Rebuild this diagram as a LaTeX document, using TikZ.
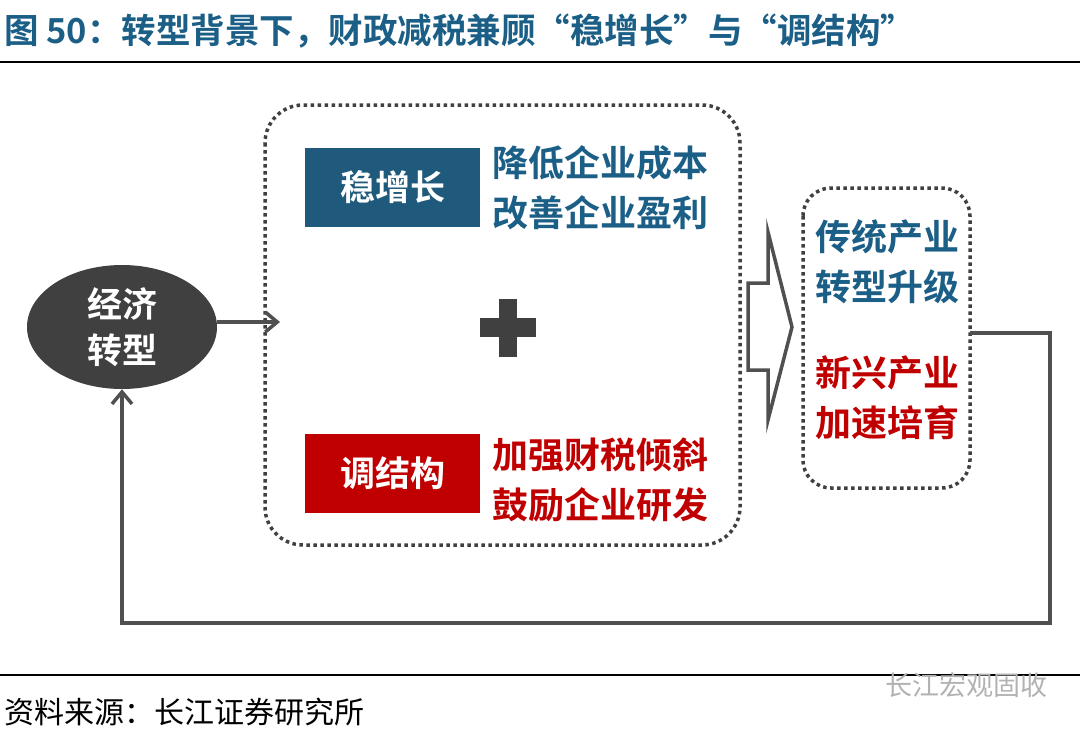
\documentclass[tikz,border=0pt]{standalone}
\usepackage{fontspec}
\setmainfont{Noto Sans CJK SC}[BoldFont={Noto Sans CJK SC Bold}]
\usetikzlibrary{shapes.geometric,arrows.meta}
\definecolor{tblue}{HTML}{1B5E86}
\definecolor{bbox}{HTML}{1F5A7C}
\definecolor{rbox}{HTML}{C00000}
\definecolor{dg}{HTML}{404040}
\definecolor{lg}{HTML}{505050}
\tikzset{
  dotbox/.style={draw=dg,line width=3.5pt,dash pattern=on 3.5pt off 3.5pt,rounded corners=38pt},
  tagbox/.style={minimum width=175pt,minimum height=79pt,text=white,font=\fontsize{35}{40}\selectfont\bfseries,inner sep=0pt},
  txt/.style={font=\fontsize{36}{50}\selectfont\bfseries,align=left,anchor=west,inner sep=0pt},
  conn/.style={draw=lg,line width=3.5pt,-{Straight Barb[length=12pt,width=20pt]}},
}
\begin{document}
\begin{tikzpicture}[x=1pt,y=-1pt]
\useasboundingbox (0,0) rectangle (1080,731);
\node[anchor=west,text=tblue,font=\fontsize{34.5}{38}\selectfont\bfseries,inner sep=0pt] (title) at (4,31) {图 50：转型背景下，财政减税兼顾“稳增长”与“调结构”};
\draw[line width=2.5pt] (0,62) -- (1080,62);
\node[ellipse,fill=dg,minimum width=190pt,minimum height=124pt,text=white,font=\fontsize{35}{46}\selectfont\bfseries,align=center,inner sep=0pt] (e) at (122,327) {经济\\转型};
\draw[dotbox] (265,105) rectangle (740,545);
\coordinate (boxL) at (280,322);
\draw[conn] (e.east|-boxL) -- (boxL);
\node[tagbox,fill=bbox] (s) at (392.5,187) {稳增长};
\node[txt,text=tblue] (st) at (492,188) {降低企业成本\\改善企业盈利};
\node[tagbox,fill=rbox] (t) at (392.5,473) {调结构};
\node[txt,text=rbox] (tt) at (492,480) {加强财税倾斜\\鼓励企业研发};
\fill[dg] (499,299) rectangle (517,357);
\fill[dg] (480,318) rectangle (536,337);
\draw[lg,line width=3.5pt,fill=white,line join=miter] (748,283) -- (768,283) -- (768,232) -- (792,327) -- (768,420) -- (768,370) -- (748,370) -- cycle;
\draw[dotbox,rounded corners=28pt] (803,188) rectangle (970,488);
\node[txt,text=tblue] (a) at (815,262) {传统产业\\转型升级};
\node[txt,text=rbox] (b) at (815,398) {新兴产业\\加速培育};
\coordinate (r) at (970,333);
\draw[conn] (r) -- (1050,333) -- (1050,623) -- (122,623) -- (e.south);
\draw[line width=2pt] (0,675) -- (1080,675);
\node[anchor=west,font=\fontsize{30}{34}\selectfont,inner sep=0pt] (src) at (4,712) {资料来源：长江证券研究所};
\node[anchor=west,text=gray!60,font=\fontsize{27}{30}\selectfont,inner sep=0pt] (wm) at (885,685) {长江宏观固收};
\end{tikzpicture}
\end{document}
